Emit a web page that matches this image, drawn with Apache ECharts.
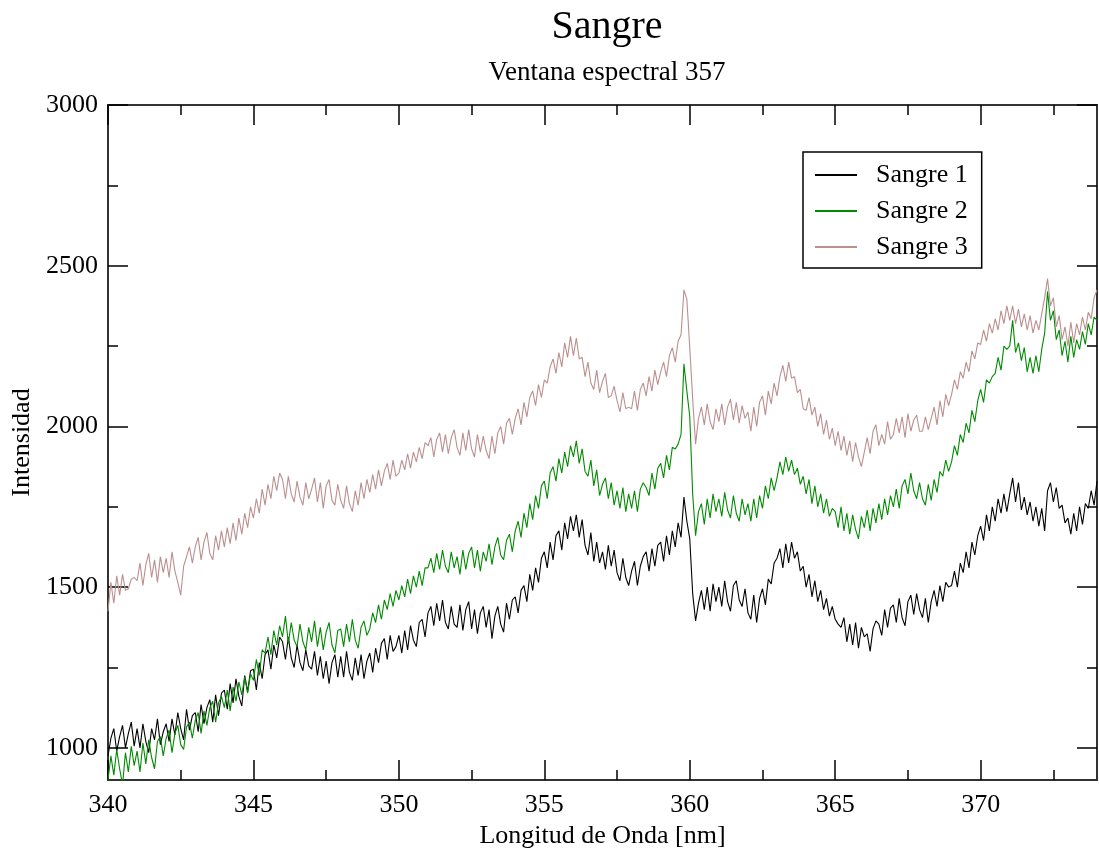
<!DOCTYPE html>
<html>
<head>
<meta charset="utf-8">
<script src="https://cdn.jsdelivr.net/npm/echarts@6/dist/echarts.min.js"></script>
<style>
html,body{margin:0;padding:0;background:#fff;}
#chart{width:1099px;height:848px;}
</style>
</head>
<body>
<div id="chart"></div>
<script>
// Wavelength grid (nm): first sample and step
const wavelengthStart = 340;
const wavelengthStep = 0.1;

// Sangre 1 (black), one row per nm: x.0 ... x.9
const sangre1 = [
 975,1030,1060,990,1035,1070,1000,1045,1080,1005,
 1060,1000,1075,1020,985,1060,1025,1090,1010,1050,
 1075,1020,1090,1040,1110,1060,1025,1120,1055,1100,
 1110,1050,1135,1075,1125,1150,1080,1165,1100,1170,
 1180,1120,1200,1140,1215,1160,1130,1225,1175,1240,
 1245,1180,1265,1215,1290,1305,1245,1320,1280,1345,
 1330,1275,1345,1280,1250,1320,1265,1240,1305,1255,
 1245,1300,1225,1285,1215,1270,1200,1265,1290,1220,
 1285,1220,1300,1235,1210,1280,1225,1290,1215,1270,
 1295,1235,1310,1265,1325,1340,1275,1350,1300,1315,
 1350,1295,1365,1305,1380,1335,1315,1390,1400,1345,
 1420,1440,1380,1450,1395,1460,1390,1370,1440,1385,
 1375,1445,1365,1430,1455,1370,1430,1355,1420,1440,
 1375,1430,1340,1410,1440,1385,1360,1450,1400,1460,
 1470,1420,1490,1505,1455,1540,1490,1560,1515,1590,
 1610,1560,1640,1585,1660,1675,1615,1700,1650,1720,
 1675,1725,1655,1710,1630,1600,1670,1580,1640,1575,
 1610,1555,1630,1565,1615,1545,1520,1590,1530,1505,
 1550,1580,1505,1565,1595,1610,1550,1620,1565,1630,
 1640,1580,1660,1600,1675,1625,1700,1655,1780,1705,
 1650,1480,1395,1450,1490,1430,1500,1425,1510,1455,
 1500,1440,1520,1455,1425,1505,1520,1460,1440,1495,
 1420,1400,1475,1390,1465,1495,1445,1525,1510,1575,
 1590,1620,1560,1635,1575,1640,1590,1610,1550,1565,
 1500,1540,1470,1520,1455,1490,1430,1465,1410,1440,
 1400,1385,1375,1405,1330,1385,1320,1390,1310,1375,
 1345,1355,1300,1370,1395,1385,1350,1430,1375,1435,
 1445,1390,1465,1405,1380,1455,1475,1415,1480,1430,
 1405,1465,1390,1455,1490,1440,1505,1455,1515,1500,
 1505,1550,1500,1575,1545,1610,1560,1640,1600,1660,
 1690,1645,1725,1675,1750,1705,1775,1730,1790,1735,
 1790,1840,1765,1825,1740,1780,1725,1765,1705,1750,
 1690,1745,1675,1800,1825,1765,1810,1745,1755,1700,
 1715,1665,1730,1675,1750,1695,1760,1745,1800,1755,
 1830
];

// Sangre 2 (green)
const sangre2 = [
 900,975,915,995,935,885,985,925,1005,945,
 990,925,1015,950,1025,970,935,1020,1035,975,
 1030,1055,985,1045,1070,1010,995,1065,1080,1030,
 1085,1110,1045,1115,1070,1125,1145,1080,1140,1160,
 1125,1180,1115,1190,1145,1205,1165,1220,1170,1230,
 1210,1275,1225,1305,1295,1345,1290,1365,1320,1380,
 1345,1410,1325,1390,1335,1315,1385,1330,1305,1375,
 1330,1395,1315,1375,1305,1360,1390,1320,1295,1365,
 1370,1315,1385,1330,1400,1335,1310,1375,1395,1350,
 1370,1420,1390,1445,1400,1460,1430,1480,1440,1490,
 1460,1505,1470,1525,1480,1535,1500,1550,1505,1560,
 1560,1590,1545,1605,1555,1615,1565,1545,1610,1560,
 1595,1540,1615,1555,1605,1625,1560,1615,1550,1610,
 1580,1635,1570,1625,1655,1600,1585,1645,1665,1610,
 1675,1705,1655,1730,1685,1760,1710,1785,1745,1815,
 1830,1775,1855,1875,1830,1900,1855,1920,1875,1940,
 1905,1955,1885,1930,1860,1845,1895,1815,1865,1785,
 1820,1840,1775,1825,1755,1800,1745,1810,1735,1790,
 1745,1800,1735,1805,1825,1810,1785,1855,1805,1870,
 1885,1840,1910,1865,1935,1930,1945,1975,2195,2110,
 2030,1790,1660,1735,1760,1695,1775,1715,1790,1735,
 1775,1720,1795,1740,1715,1785,1730,1705,1775,1725,
 1760,1705,1775,1715,1785,1745,1815,1775,1840,1800,
 1840,1890,1850,1905,1860,1895,1850,1870,1820,1845,
 1790,1835,1760,1815,1750,1790,1730,1775,1720,1745,
 1735,1685,1750,1675,1730,1665,1725,1680,1650,1720,
 1685,1740,1675,1745,1700,1760,1710,1775,1725,1785,
 1750,1805,1745,1815,1835,1790,1855,1800,1775,1825,
 1775,1755,1820,1770,1835,1795,1860,1845,1895,1860,
 1890,1940,1910,1975,1950,2010,1980,2050,2015,2080,
 2115,2075,2145,2135,2155,2165,2215,2175,2250,2240,
 2250,2330,2230,2260,2205,2245,2170,2215,2165,2220,
 2170,2240,2290,2420,2330,2360,2270,2300,2220,2265,
 2200,2280,2215,2270,2240,2295,2255,2320,2285,2340,
 2330
];

// Sangre 3 (rosy brown)
const sangre3 = [
 1425,1515,1450,1535,1475,1540,1490,1495,1525,1530,
 1520,1575,1505,1570,1605,1530,1585,1515,1595,1545,
 1590,1530,1610,1550,1515,1475,1565,1595,1625,1575,
 1625,1655,1585,1640,1670,1605,1585,1660,1615,1675,
 1625,1685,1635,1700,1645,1715,1665,1730,1685,1750,
 1715,1775,1730,1805,1755,1820,1775,1845,1800,1855,
 1835,1775,1845,1790,1765,1830,1780,1755,1825,1775,
 1805,1840,1765,1825,1745,1815,1835,1770,1755,1820,
 1770,1745,1815,1760,1735,1800,1755,1825,1775,1835,
 1795,1850,1805,1865,1815,1860,1885,1835,1895,1845,
 1855,1895,1865,1915,1870,1920,1890,1935,1900,1950,
 1940,1965,1905,1960,1980,1920,1975,1915,1965,1990,
 1935,1910,1980,1925,1990,1930,1905,1975,1920,1970,
 1925,1900,1970,1915,1980,2000,1945,2010,2025,1975,
 2025,2055,2005,2075,2030,2090,2110,2065,2130,2090,
 2145,2135,2185,2210,2165,2230,2185,2260,2215,2280,
 2220,2275,2210,2215,2155,2200,2135,2115,2175,2105,
 2140,2165,2090,2095,2125,2080,2045,2105,2055,2060,
 2055,2110,2050,2115,2135,2095,2155,2110,2175,2130,
 2170,2200,2155,2220,2245,2200,2265,2285,2425,2395,
 2245,2085,1945,2025,2060,2005,2070,2015,1990,2055,
 2015,2070,2005,2060,2085,2020,2075,2010,2065,2025,
 2045,1985,2060,2000,2075,2095,2035,2110,2070,2135,
 2095,2155,2190,2140,2200,2150,2155,2105,2115,2055,
 2050,2090,2035,2060,2000,2040,1975,2020,1960,1995,
 1940,1985,1925,1970,1910,1955,1890,1950,1905,1875,
 1920,1965,1915,1985,2005,1940,1975,1945,2015,1960,
 1975,2025,1980,2030,1965,2040,1985,2020,2035,1985,
 1985,2030,1990,2025,2060,2005,2080,2030,2100,2065,
 2100,2145,2115,2170,2150,2200,2170,2235,2210,2260,
 2255,2300,2265,2320,2290,2335,2300,2360,2320,2375,
 2330,2375,2320,2365,2310,2350,2300,2345,2290,2330,
 2300,2350,2400,2460,2375,2400,2310,2345,2270,2310,
 2250,2325,2260,2320,2285,2340,2300,2355,2335,2400,
 2425
];

const seriesNames = ['Sangre 1', 'Sangre 2', 'Sangre 3'];
const seriesColors = ['#000000', '#008b00', '#bc8f8f'];

const xMajorTicks = [340, 345, 350, 355, 360, 365, 370];
const xMinorTicks = [342.5, 347.5, 352.5, 357.5, 362.5, 367.5, 372.5];
const yMajorTicks = [1000, 1500, 2000, 2500, 3000];
const yMinorTicks = [1250, 1750, 2250, 2750];

const xRange = [340, 374];
const yRange = [900, 3000];

const FONT = '"Liberation Serif", "Times New Roman", serif';

function pairs(vals) {
  return vals.map((v, i) => [Math.round((wavelengthStart + i * wavelengthStep) * 10) / 10, v]);
}

function tickAxis(kind, position, values, len, labels) {
  const range = kind === 'x' ? xRange : yRange;
  return {
    type: 'value', position: position, min: range[0], max: range[1],
    axisLine: { show: false, onZero: false },
    splitLine: { show: false },
    axisTick: { show: true, inside: true, length: len, customValues: values,
                lineStyle: { color: '#000', width: 1.5 } },
    axisLabel: labels ? Object.assign({ customValues: values, formatter: v => String(v) }, labels) : { show: false }
  };
}

const xMain = tickAxis('x', 'bottom', xMajorTicks, 20, {
  fontSize: 26, fontFamily: FONT, color: '#000', margin: 12
});
xMain.name = 'Longitud de Onda [nm]';
xMain.nameLocation = 'middle';
xMain.nameGap = 40;
xMain.nameTextStyle = { fontSize: 26, fontFamily: FONT, color: '#000' };

const yMain = tickAxis('y', 'left', yMajorTicks, 20, {
  fontSize: 26, fontFamily: FONT, color: '#000', margin: 10
});
yMain.name = 'Intensidad';
yMain.nameLocation = 'middle';
yMain.nameGap = 72;
yMain.nameTextStyle = { fontSize: 26, fontFamily: FONT, color: '#000' };

const chart = echarts.init(document.getElementById('chart'), null, { renderer: 'canvas' });
chart.setOption({
  animation: false,
  backgroundColor: '#fff',
  title: {
    text: 'Sangre',
    subtext: 'Ventana espectral 357',
    left: 602, top: 2, textAlign: 'center', itemGap: 12,
    textStyle: { fontSize: 40, fontFamily: FONT, fontWeight: 'normal', color: '#000' },
    subtextStyle: { fontSize: 27, fontFamily: FONT, color: '#000' }
  },
  legend: {
    orient: 'vertical', left: 803, top: 152,
    padding: [10, 14, 8, 12], itemGap: 10, itemWidth: 42, itemHeight: 2,
    icon: 'rect',
    borderColor: '#000', borderWidth: 1.5, backgroundColor: '#fff',
    textStyle: { fontSize: 26, fontFamily: FONT, color: '#000', padding: [0, 0, 0, 14] },
    data: seriesNames
  },
  grid: { left: 108, right: 2, top: 105, bottom: 68, show: true, outerBoundsMode: 'none',
          containLabel: false,
          borderColor: '#333', borderWidth: 2, backgroundColor: 'transparent' },
  xAxis: [
    xMain,
    tickAxis('x', 'bottom', xMinorTicks, 10, null),
    tickAxis('x', 'top', xMajorTicks, 20, null),
    tickAxis('x', 'top', xMinorTicks, 10, null)
  ],
  yAxis: [
    yMain,
    tickAxis('y', 'left', yMinorTicks, 10, null),
    tickAxis('y', 'right', yMajorTicks, 20, null),
    tickAxis('y', 'right', yMinorTicks, 10, null)
  ],
  series: [sangre1, sangre2, sangre3].map((vals, k) => ({
    name: seriesNames[k], type: 'line', xAxisIndex: 0, yAxisIndex: 0,
    symbol: 'none', showSymbol: false, clip: true,
    lineStyle: { color: seriesColors[k], width: 1.1 },
    itemStyle: { color: seriesColors[k] },
    data: pairs(vals)
  }))
});
</script>
</body>
</html>
